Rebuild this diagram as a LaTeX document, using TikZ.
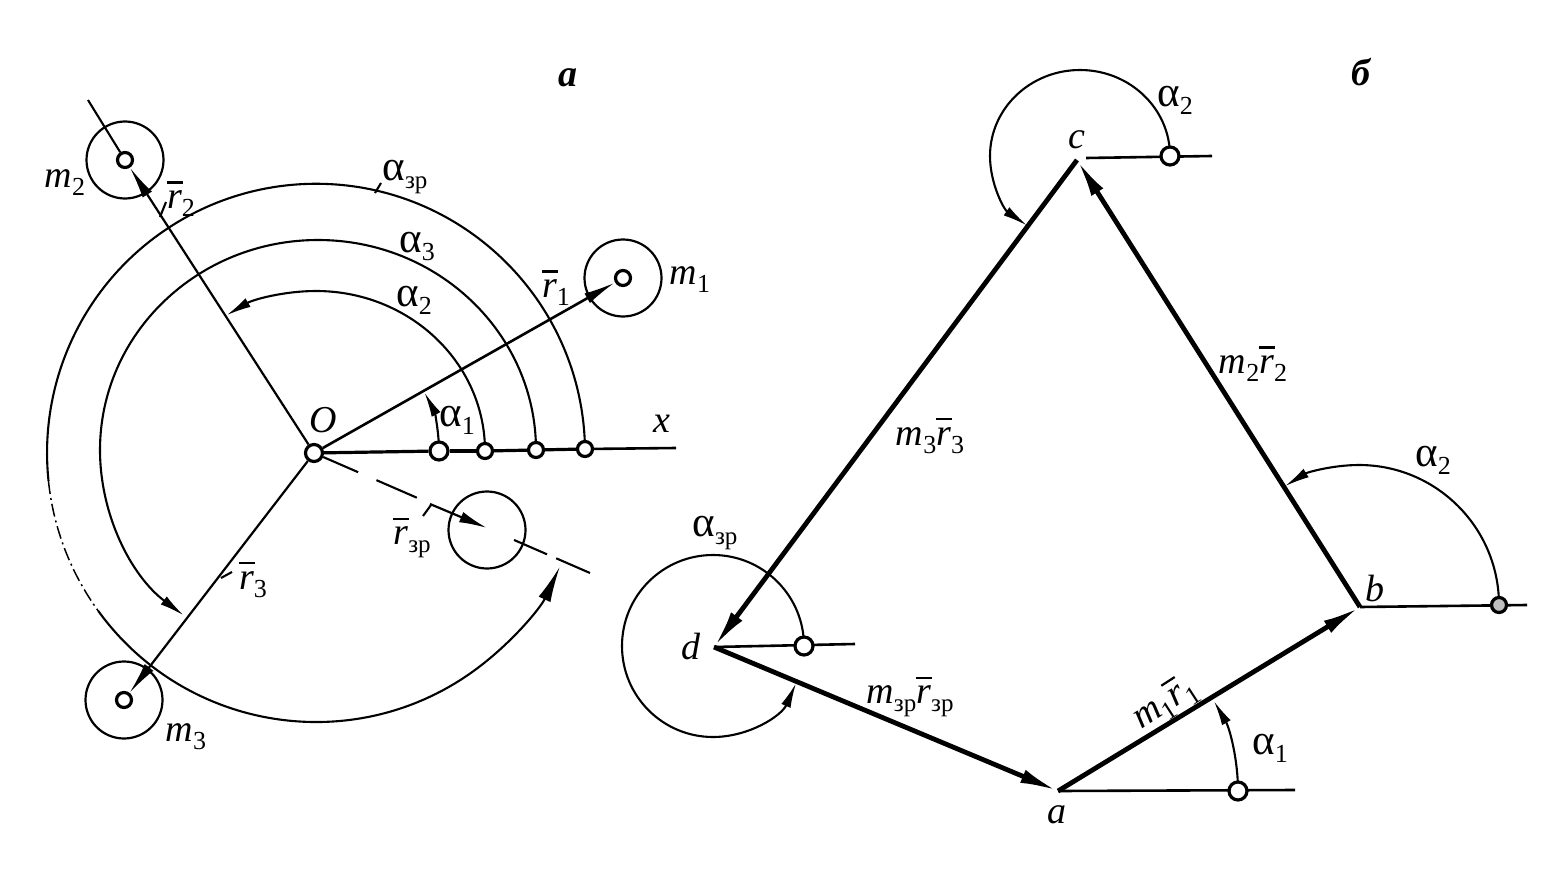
\documentclass[tikz,border=0pt]{standalone}
\usepackage{fontspec}
\setmainfont{Liberation Serif}
\usetikzlibrary{arrows.meta}
\newcommand{\lsub}[1]{\raisebox{-8pt}{\fontsize{26}{26}\selectfont #1}}
\newcommand{\lzr}{\raisebox{-8pt}{\fontsize{25}{25}\selectfont зр}}
\newcommand{\lbar}{\leavevmode\rlap{\rule[25pt]{16pt}{2.2pt}}\textit{r}}
\newcommand{\lalp}{{\fontsize{43}{43}\selectfont α}}
\tikzset{
    lbl/.style={inner sep=0pt,font=\fontsize{38}{40}\selectfont},
    hub/.style={circle,draw,fill=white,line width=3.2pt,inner sep=0pt,minimum size=15pt},
    ring/.style={circle,draw,line width=2.2pt,inner sep=0pt,minimum size=77pt},
    thinl/.style={line width=2.1pt},
    vec/.style={line width=2.6pt,-{Latex[length=32pt,width=11pt]}},
    side/.style={line width=4.8pt,-{Latex[length=38pt,width=14pt]}},
    ang/.style={line width=2.1pt,-{Latex[length=25pt,width=10pt]}}
}
\begin{document}
\begin{tikzpicture}[x=1pt,y=1pt]
        \useasboundingbox (0,0) rectangle (1550,-888);

        % Puntos de la figura a
        \coordinate (pA1) at (439,-451);
        \coordinate (pA2) at (485,-451);
        \coordinate (pA3) at (536,-450);
        \coordinate (pAz) at (585,-449);
        \coordinate (cAz) at (316,-453);
        \coordinate (xEnd) at (676,-448);
        \coordinate (rTwoEnd) at (88,-100);
        \coordinate (rzCenter) at (487,-528);
        \coordinate (rzStart) at (430,-504);
        \coordinate (rzEnd) at (590,-573);

        % Arcos de la figura a
        \draw[ang] (pA1) arc[start angle=0,end angle=28,radius=125];
        \draw[ang] (pA2) arc[start angle=0,end angle=122,x radius=169,y radius=160];
        \draw[ang] (pA3) arc[start angle=0,end angle=232,x radius=218,y radius=210];
        \draw[thinl] (pAz) arc[start angle=0.8,end angle=186,radius=269];
        \draw[line width=1.5pt,dash pattern=on 13pt off 4pt on 2pt off 4pt] ([shift={(186:269)}]cAz) arc[start angle=186,end angle=216,radius=269];
        \draw[ang,-{Latex[length=36pt,width=13pt]}] ([shift={(216:269)}]cAz) arc[start angle=216,end angle=335,radius=269];

        % Circulos de la figura a
        \node[ring] (ringOne) at (623,-278) {};
        \node[ring] (ringTwo) at (125,-160) {};
        \node[ring] (ringThree) at (124,-700) {};
        \node[ring] (ringZ) at (487,-530) {};
        \node[hub,minimum size=17pt] (hubO) at (314,-453) {};
        \node[hub] (hubM1) at (623,-278) {};
        \node[hub] (hubM2) at (125,-160) {};
        \node[hub] (hubM3) at (124,-700) {};
        \node[hub,minimum size=18pt] (hubA1) at (pA1) {};
        \node[hub] (hubA2) at (pA2) {};
        \node[hub] (hubA3) at (pA3) {};
        \node[hub] (hubAz) at (pAz) {};

        % Ejes y vectores de la figura a
        \draw[line width=3.2pt] (hubO) -- (hubA1);
        \draw[line width=3.2pt] (hubA1) -- (hubA2);
        \draw[line width=3.2pt] (hubA2) -- (hubA3);
        \draw[line width=3.2pt] (hubA3) -- (hubAz);
        \draw[line width=2.6pt] (hubAz) -- (xEnd);
        \draw[vec] (hubO) -- (hubM1);
        \draw[vec,line width=2.2pt] (hubO) -- (hubM2);
        \draw[vec,line width=2.2pt] (hubO) -- (hubM3);
        \draw[thinl] (hubM2) -- (rTwoEnd);
        \draw[thinl,dash pattern=on 38pt off 20pt on 44pt off 19pt on 0pt off 62pt on 0pt off 25pt on 36pt off 10pt on 42pt] (hubO) -- (rzEnd);
        \draw[vec,line width=2.2pt,-{Latex[length=28pt,width=11pt]}] (rzStart) -- (rzCenter);

        % Marcas de las etiquetas
        \draw[thinl] (160,-217) -- (166,-202);
        \draw[thinl] (375,-193) -- (381,-183);
        \draw[thinl] (221,-578) -- (232,-572);
        \draw[thinl] (423,-516) -- (431,-505);

        % Etiquetas de la figura a
        \node[lbl] (labA) at (568,-78) {\textbf{\textit{а}}};
        \node[lbl] (labM2) at (65,-183) {\textit{m}\lsub{2}};
        \node[lbl] (labR2) at (181,-199) {\lbar\lsub{2}};
        \node[lbl] (labAz) at (405,-177) {\lalp\lzr};
        \node[lbl] (labA3) at (417,-246) {\lalp\lsub{3}};
        \node[lbl] (labA2) at (414,-300) {\lalp\lsub{2}};
        \node[lbl] (labR1) at (556,-288) {\lbar\lsub{1}};
        \node[lbl] (labM1) at (690,-280) {\textit{m}\lsub{1}};
        \node[lbl] (labO) at (323,-420) {\textit{O}};
        \node[lbl] (labA1) at (457,-420) {\lalp\lsub{1}};
        \node[lbl] (labX) at (662,-424) {\textit{x}};
        \node[lbl] (labRz) at (412,-538) {\lbar\lzr};
        \node[lbl] (labR3) at (253,-580) {\lbar\lsub{3}};
        \node[lbl] (labM3) at (186,-737) {\textit{m}\lsub{3}};

        % Puntos de la figura b
        \coordinate (pBa) at (1238,-791);
        \coordinate (pBb) at (1499,-605);
        \coordinate (pBc) at (1170,-156);
        \coordinate (pBd) at (804,-646);

        % Arcos de la figura b
        \draw[ang] (pBa) arc[start angle=0,end angle=30,radius=180];
        \draw[ang] (pBb) arc[start angle=0,end angle=122,radius=140];
        \draw[ang] (pBc) arc[start angle=0,end angle=234,x radius=90,y radius=86];
        \draw[ang] (pBd) arc[start angle=0,end angle=336,radius=91];

        % Poligono de la figura b
        \coordinate (a) at (1058,-791);
        \coordinate (b) at (1360,-607);
        \coordinate (c) at (1077,-160);
        \coordinate (d) at (714,-647);
        \draw[side] (a) -- (b);
        \draw[side] (b) -- (c);
        \draw[side] (c) -- (d);
        \draw[side] (d) -- (a);

        % Lineas horizontales de la figura b
        \draw[line width=2.6pt] (a) -- (1295,-790);
        \draw[line width=2.6pt] (b) -- (1527,-605);
        \draw[line width=2.6pt] (1086,-158) -- (1212,-156);
        \draw[line width=2.6pt] (d) -- (855,-644);
        \node[hub,minimum size=18pt] (hubBa) at (pBa) {};
        \node[hub,fill=black!25] (hubBb) at (pBb) {};
        \node[hub,minimum size=18pt] (hubBc) at (pBc) {};
        \node[hub,minimum size=18pt] (hubBd) at (pBd) {};

        % Etiquetas de la figura b
        \node[lbl] (labB) at (1362,-72) {\textbf{\textit{б}}};
        \node[lbl] (labBa2) at (1175,-100) {\lalp\lsub{2}};
        \node[lbl] (labBc) at (1077,-140) {\textit{c}};
        \node[lbl] (labM2R2) at (1253,-364) {\textit{m}\lsub{2}\lbar\lsub{2}};
        \node[lbl] (labM3R3) at (930,-436) {\textit{m}\lsub{3}\lbar\lsub{3}};
        \node[lbl] (labBb2) at (1433,-460) {\lalp\lsub{2}};
        \node[lbl] (labBb) at (1375,-588) {\textit{b}};
        \node[lbl] (labBaz) at (715,-533) {\lalp\lzr};
        \node[lbl] (labBd) at (691,-647) {\textit{d}};
        \node[lbl] (labMzRz) at (910,-697) {\textit{m}\lzr\lbar\lzr};
        \node[lbl,rotate=33] (labM1R1) at (1165,-703) {\textit{m}\lsub{1}\lbar\lsub{1}};
        \node[lbl] (labBa1) at (1270,-748) {\lalp\lsub{1}};
        \node[lbl] (labBa) at (1057,-815) {\textit{a}};
    \end{tikzpicture}
\end{document}
